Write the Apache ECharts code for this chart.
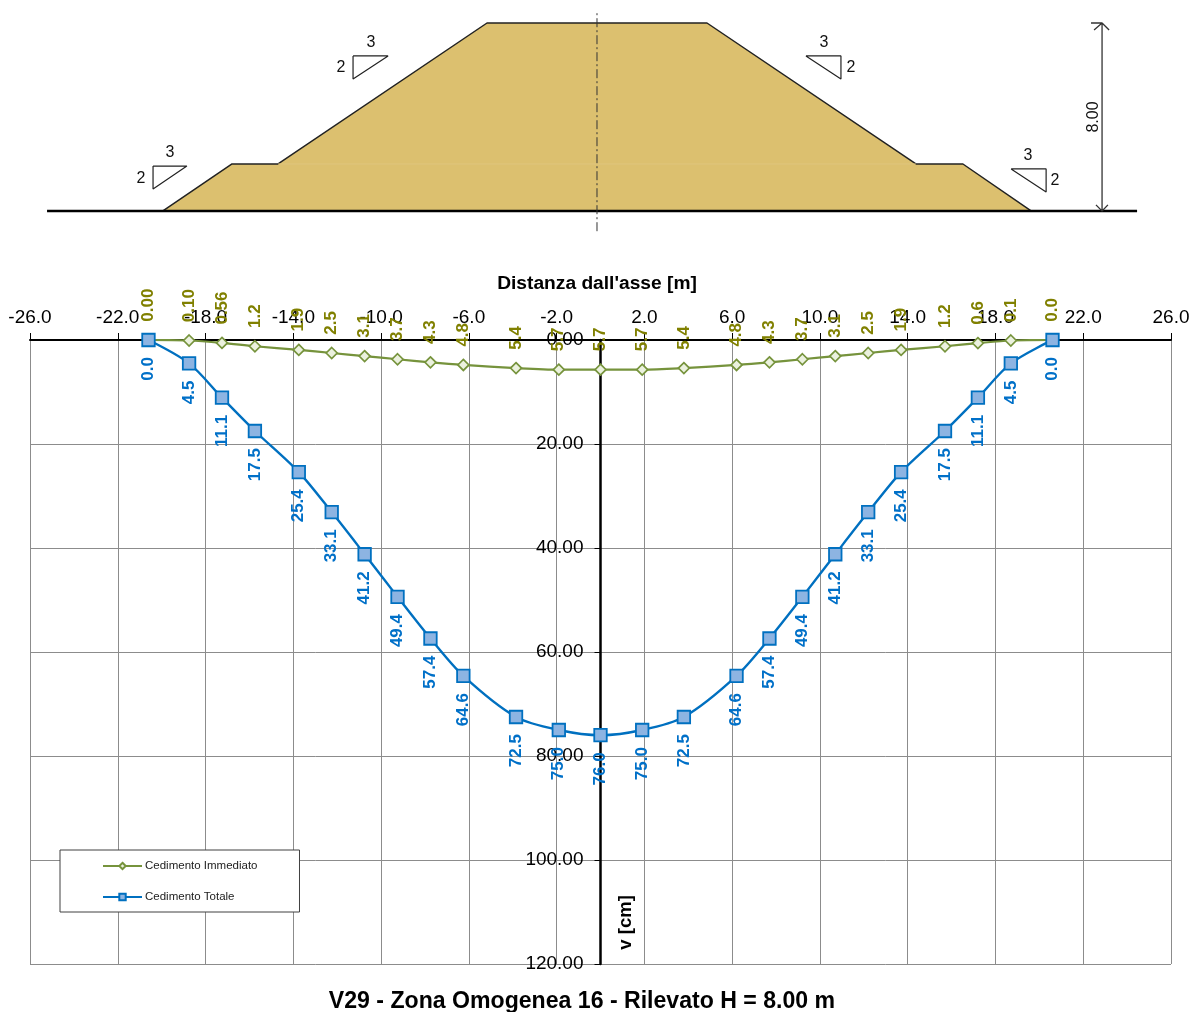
<!DOCTYPE html>
<html>
<head>
<meta charset="utf-8">
<style>html,body{margin:0;padding:0;background:#fff}#c{width:1193px;height:1012px}</style>
<script src="https://cdn.jsdelivr.net/npm/echarts@6/dist/echarts.min.js"></script>
</head>
<body>
<div id="c"></div>
<script>
const FONT = '"Liberation Sans", Arial, sans-serif';
const distanceTicks = [-26,-22,-18,-14,-10,-6,-2,2,6,10,14,18,22,26];
const distances = [-20.6,-18.75,-17.25,-15.75,-13.75,-12.25,-10.75,-9.25,-7.75,-6.25,-3.85,-1.9,0,1.9,3.8,6.2,7.7,9.2,10.7,12.2,13.7,15.7,17.2,18.7,20.6];
const immediate = [0,0.1,0.56,1.2,1.9,2.5,3.1,3.7,4.3,4.8,5.4,5.7,5.7,5.7,5.4,4.8,4.3,3.7,3.1,2.5,1.9,1.2,0.6,0.1,0];
const immediateLabels = ['0.00','0.10','0.56','1.2','1.9','2.5','3.1','3.7','4.3','4.8','5.4','5.7','5.7','5.7','5.4','4.8','4.3','3.7','3.1','2.5','1.9','1.2','0.6','0.1','0.0'];
const total = [0,4.5,11.1,17.5,25.4,33.1,41.2,49.4,57.4,64.6,72.5,75,76,75,72.5,64.6,57.4,49.4,41.2,33.1,25.4,17.5,11.1,4.5,0];
const totalLabels = ['0.0','4.5','11.1','17.5','25.4','33.1','41.2','49.4','57.4','64.6','72.5','75.0','76.0','75.0','72.5','64.6','57.4','49.4','41.2','33.1','25.4','17.5','11.1','4.5','0.0'];

// Embankment cross-section, in metres
const embankmentX = [-18.47,-15.53,-13.57,-4.68,4.68,13.57,15.57,18.47];
const embankmentY = [0,2,2,8,8,2,2,0];
const groundX = [-23.40,22.98];
const bermSeamX = [-13.57,13.57];
const centreX = [0,0];
const centreY = [-0.86,8.44];
const slopeTriangles = [
  [[-10.38,6.60],[-8.89,6.60],[-10.38,5.62],[-10.38,6.60]],
  [[-18.89,1.91],[-17.45,1.91],[-18.89,0.94],[-18.89,1.91]],
  [[8.89,6.60],[10.38,6.60],[10.38,5.62],[8.89,6.60]],
  [[17.62,1.79],[19.11,1.79],[19.11,0.81],[17.62,1.79]]
];
const slopeLabels = [[-9.62,7.15,'3'],[-10.89,6.09,'2'],[-18.17,2.47,'3'],[-19.40,1.36,'2'],[9.66,7.15,'3'],[10.81,6.09,'2'],[18.34,2.34,'3'],[19.49,1.28,'2']];
const heightLine = [[21.02,8],[21.49,8],[21.49,0],[null,null],[21.15,7.70],[21.49,8],[21.79,7.70],[null,null],[21.23,0.26],[21.49,0],[21.74,0.26]];
const heightLabel = [[21.11,4,'8.00']];
const yNameLabel = [[1.16,112,'v [cm]']];

const sec = {xAxisIndex:1,yAxisIndex:1,silent:true,animation:false};
function zipXY(a,b){return a.map((v,i)=>[v,b[i]]);}
const triangleData = [];
slopeTriangles.forEach((t,i)=>{ if(i) triangleData.push([null,null]); t.forEach(p=>triangleData.push(p)); });

const chart = echarts.init(document.getElementById('c'),null,{renderer:'canvas'});
chart.setOption({
  animation:false,
  backgroundColor:'#fff',
  textStyle:{fontFamily:FONT},
  title:[
    {text:"Distanza dall'asse [m]",left:597,top:274,textAlign:'center',textStyle:{fontFamily:FONT,fontSize:19.2,fontWeight:'bold',color:'#000'},padding:0},
    {text:'V29 - Zona Omogenea 16 - Rilevato H = 8.00 m',left:582,top:990,textAlign:'center',textStyle:{fontFamily:FONT,fontSize:23.1,fontWeight:'bold',color:'#000'},padding:0}
  ],
  legend:{
    data:['Cedimento Immediato','Cedimento Totale'],
    orient:'vertical',left:60,top:850,align:'left',
    selectedMode:false,
    backgroundColor:'#fff',borderColor:'#404040',borderWidth:1,borderRadius:0,
    padding:[10,42,9,42],itemGap:19,itemWidth:39,itemHeight:8,
    textStyle:{fontFamily:FONT,fontSize:11.5,color:'#222',padding:[0,0,0,-2]},
    z:10
  },
  grid:[
    {left:30,top:340,width:1141,height:624,containLabel:false,outerBoundsMode:'none'},
    {left:40,top:12,width:1110,height:220,containLabel:false,outerBoundsMode:'none'}
  ],
  xAxis:[
    {type:'value',gridIndex:0,position:'top',min:-26,max:26,
     axisLine:{onZero:true,lineStyle:{color:'#000',width:2}},
     axisTick:{show:true,length:7,customValues:distanceTicks,lineStyle:{color:'#000',width:1}},
     axisLabel:{customValues:distanceTicks,formatter:v=>Number(v).toFixed(1),fontFamily:FONT,fontSize:19,color:'#000',margin:13},
     splitLine:{show:true,lineStyle:{color:'#8c8c8c',width:1}}},
    {type:'value',gridIndex:1,min:-23.70,max:23.53,show:false,splitLine:{show:false}}
  ],
  yAxis:[
    {type:'value',gridIndex:0,inverse:true,min:0,max:120,interval:20,position:'left',offset:-570.5,
     axisLine:{show:true,onZero:false,lineStyle:{color:'#000',width:2.5}},
     axisTick:{show:true,length:6,lineStyle:{color:'#000',width:1}},
     axisLabel:{formatter:v=>Number(v).toFixed(2),fontFamily:FONT,fontSize:19,color:'#000',margin:17,padding:[2,0,0,0]},
     splitLine:{show:true,lineStyle:{color:'#8c8c8c',width:1}}},
    {type:'value',gridIndex:1,min:-0.894,max:8.468,show:false,splitLine:{show:false}}
  ],
  series:[
    Object.assign({type:'line',name:'Embankment',data:zipXY(embankmentX,embankmentY),symbol:'none',z:2,
      lineStyle:{color:'#222',width:1.5},areaStyle:{color:'#DCC06F',opacity:1,origin:0}},sec),
    Object.assign({type:'line',name:'BermSeam',data:zipXY(bermSeamX,[2,2]),symbol:'none',z:2,lineStyle:{color:'#E0C67E',width:1}},sec),
    Object.assign({type:'line',name:'Ground',data:zipXY(groundX,[0,0]),symbol:'none',z:3,lineStyle:{color:'#000',width:2.5}},sec),
    Object.assign({type:'line',name:'Axis',data:zipXY(centreX,centreY),symbol:'none',z:3,lineStyle:{color:'#333',width:1,type:[9,3,2,3]}},sec),
    Object.assign({type:'line',name:'Slopes',data:triangleData,symbol:'none',z:3,lineStyle:{color:'#222',width:1.2}},sec),
    Object.assign({type:'line',name:'Height',data:heightLine,symbol:'none',z:3,lineStyle:{color:'#333',width:1.3}},sec),
    Object.assign({type:'scatter',name:'SlopeText',data:slopeLabels,symbolSize:0,z:4,itemStyle:{opacity:1},
      label:{show:true,position:'inside',formatter:p=>p.value[2],fontFamily:FONT,fontSize:16,color:'#111'}},sec),
    Object.assign({type:'scatter',name:'HeightText',data:heightLabel,symbolSize:0,z:4,itemStyle:{opacity:1},
      label:{show:true,position:'inside',rotate:90,formatter:p=>p.value[2],fontFamily:FONT,fontSize:16,color:'#111'}},sec),
    {type:'line',name:'Cedimento Immediato',xAxisIndex:0,yAxisIndex:0,data:zipXY(distances,immediate),smooth:0.3,
     symbol:'diamond',symbolSize:11,z:5,
     lineStyle:{color:'#76933C',width:2.2},
     itemStyle:{color:'#EBF1DE',borderColor:'#76933C',borderWidth:1.7},
     label:{show:true,position:'top',distance:12,rotate:90,align:'left',verticalAlign:'middle',
       formatter:p=>immediateLabels[p.dataIndex],fontFamily:FONT,fontSize:17,fontWeight:'bold',color:'#808000'}},
    {type:'line',name:'Cedimento Totale',xAxisIndex:0,yAxisIndex:0,data:zipXY(distances,total),smooth:0.3,
     symbol:'rect',symbolSize:12.5,z:6,
     lineStyle:{color:'#0070C0',width:2.4},
     itemStyle:{color:'#8DB4E2',borderColor:'#0070C0',borderWidth:1.8},
     label:{show:true,position:'bottom',distance:11,offset:[1,0],rotate:90,align:'right',verticalAlign:'middle',
       formatter:p=>totalLabels[p.dataIndex],fontFamily:FONT,fontSize:17,fontWeight:'bold',color:'#0070C8'}},
    {type:'scatter',name:'YName',xAxisIndex:0,yAxisIndex:0,data:yNameLabel,symbolSize:0,z:6,silent:true,itemStyle:{opacity:1},
     label:{show:true,position:'inside',rotate:90,formatter:p=>p.value[2],fontFamily:FONT,fontSize:18.5,fontWeight:'bold',color:'#000'}}
  ]
});
</script>
</body>
</html>
